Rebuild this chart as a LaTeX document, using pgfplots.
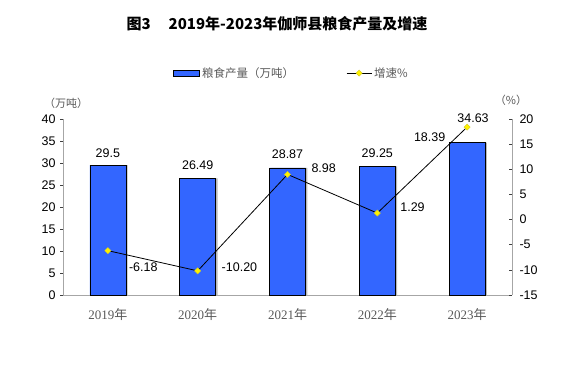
\documentclass[border=0pt]{standalone}
\usepackage{pgfplots}
\pgfplotsset{compat=1.18}
\usepackage{fontspec}
\setmainfont{Liberation Sans}
\newfontfamily\cjk{Noto Sans CJK SC}
\newfontfamily\serif{Liberation Serif}
\definecolor{barblue}{HTML}{3366FF}
\definecolor{axgray}{HTML}{A6A6A6}
\definecolor{txtgray}{HTML}{595959}
\pgfplotsset{
  linelegend/.style={legend image code/.code={\draw[##1, mark repeat=2, mark phase=2] plot coordinates {(0pt,0pt) (12.5pt,0pt) (25pt,0pt)};}},
  barlegend/.style={legend image code/.code={\draw[fill=barblue, draw=black, line width=0.8pt] (0pt,-3pt) rectangle (26pt,3pt);}},
}
\begin{document}
\begin{tikzpicture}
\useasboundingbox (0pt,0pt) rectangle (567pt,366pt);
% title
\node[font=\cjk\bfseries\fontsize{15pt}{17pt}\selectfont, anchor=center] at (277pt,342pt) {图3\hspace{18pt}2019年-2023年伽师县粮食产量及增速};
% unit labels
\node[font=\cjk\fontsize{11pt}{13pt}\selectfont, text=txtgray] at (66pt,263pt) {（万吨）};
\node[font=\cjk\fontsize{11pt}{13pt}\selectfont, text=txtgray] at (511pt,266pt) {（\%）};

\begin{axis}[
  scale only axis, width=449pt, height=176pt,
  at={(63pt,71pt)}, anchor=south west,
  xmin=-0.5, xmax=4.5, ymin=0, ymax=40,
  axis y line*=left, axis x line*=bottom,
  axis line style={draw=axgray, line width=0.8pt, -},
  clip=false,
  /pgf/number format/assume math mode=true,
  ytick={0,5,...,40},
  tick align=inside,
  major tick length=3pt,
  y tick style={draw=black!75, line width=0.6pt, xshift=-3pt},
  xtick={0,1,2,3,4},
  xticklabels={{\serif 2019\cjk 年},{\serif 2020\cjk 年},{\serif 2021\cjk 年},{\serif 2022\cjk 年},{\serif 2023\cjk 年}},
  x tick style={draw=none},
  extra x ticks={0.5,1.5,2.5,3.5},
  extra x tick labels={},
  extra x tick style={tick style={draw=black!75, line width=0.6pt}},
  xticklabel style={font=\fontsize{13pt}{15pt}\selectfont, text=txtgray, yshift=-10pt},
  yticklabel style={font=\fontsize{12.5pt}{14pt}\selectfont, xshift=-4pt},
]
\addplot[ybar, bar width=36pt, bar shift=1.8pt, fill=gray!55, draw=none] coordinates {(0,29.5) (1,26.49) (2,28.87) (3,29.25) (4,34.63)};
\addplot[ybar, bar width=36pt, bar shift=0pt, fill=barblue, draw=black, line width=0.7pt] coordinates {(0,29.5) (1,26.49) (2,28.87) (3,29.25) (4,34.63)};
\begin{scope}[every node/.style={font=\fontsize{12.5pt}{14pt}\selectfont}]
\node at (axis cs:0,32.3) {29.5};
\node at (axis cs:1,29.5) {26.49};
\node at (axis cs:2,32.0) {28.87};
\node at (axis cs:3,32.3) {29.25};
\node at (axis cs:4.066,40.2) {34.63};
\end{scope}
\end{axis}

\begin{axis}[
  scale only axis, width=449pt, height=176pt,
  at={(63pt,71pt)}, anchor=south west,
  xmin=-0.5, xmax=4.5, ymin=-15, ymax=20,
  axis y line*=right, axis x line=none,
  axis line style={draw=axgray, line width=0.8pt, -},
  clip=false,
  /pgf/number format/assume math mode=true,
  ytick={-15,-10,...,20},
  tick align=inside,
  major tick length=3.5pt,
  y tick style={draw=black!75, line width=0.6pt},
  xtick=\empty,
  yticklabel style={font=\fontsize{12.5pt}{14pt}\selectfont, xshift=4pt},
  legend columns=2,
  legend style={at={(0.509,1.261)}, anchor=center, draw=none, fill=none,
    font=\cjk\fontsize{11.5pt}{13pt}\selectfont, text=txtgray,
    /tikz/every even column/.append style={column sep=50pt},
    inner sep=0pt},
  legend cell align=left,
]
\addlegendimage{barlegend}
\addlegendentry{粮食产量（万吨）}
\addplot[black, line width=0.8pt, mark=square*, mark size=2.2pt,
  mark options={rotate=45, fill=yellow, draw=yellow!80!black, line width=0.4pt}, linelegend]
  coordinates {(0,-6.18) (1,-10.20) (2,8.98) (3,1.29) (4,18.39)};
\addlegendentry{增速\%}
\begin{scope}[every node/.style={font=\fontsize{12.5pt}{14pt}\selectfont}]
\node at (axis cs:0.394,-9.46) {-6.18};
\node at (axis cs:1.465,-9.46) {-10.20};
\node at (axis cs:2.403,10.26) {8.98};
\node at (axis cs:3.392,2.54) {1.29};
\node at (axis cs:3.583,16.4) {18.39};
\end{scope}
\end{axis}
\end{tikzpicture}
\end{document}
